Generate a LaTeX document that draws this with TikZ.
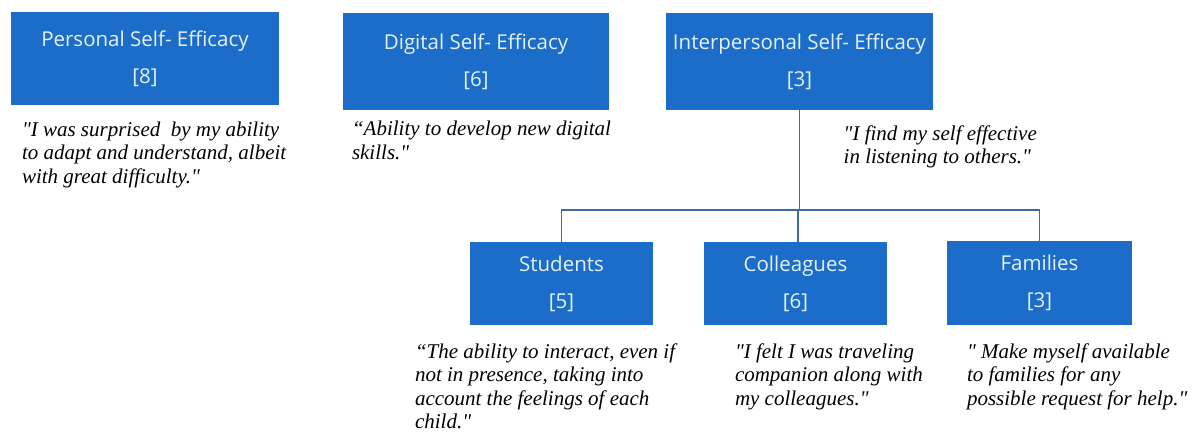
\documentclass[tikz,border=0pt]{standalone}
\usepackage{fontspec}
\setmainfont{Liberation Serif}
\newfontfamily\boxfont{Open Sans}
\usetikzlibrary{positioning}
\definecolor{boxblue}{HTML}{1C6DC9}
\definecolor{boxtext}{HTML}{E4F2FF}
\definecolor{linkblue}{HTML}{3A6C9E}
\newcommand{\dq}{\textquotedbl}
\tikzset{
    box/.style={rectangle, fill=boxblue, text=boxtext, inner sep=0pt, align=center,
        minimum height=93pt, font=\boxfont\fontsize{20.5}{37}\selectfont},
    quote/.style={inner sep=0pt, align=left, font=\itshape\fontsize{21}{23.5}\selectfont},
    link/.style={draw=linkblue, line width=1.3pt}
}

\begin{document}
\begin{tikzpicture}[x=1pt, y=-1pt]
        \useasboundingbox (0,0) rectangle (1196,441);

        \node (personal) [box, minimum width=268pt] at (145,59) {Personal Self- Efficacy\\{[8]}};
        \node (digital) [box, minimum width=266pt, minimum height=97pt] at (476,61.5) {Digital Self- Efficacy\\{[6]}};
        \node (interp) [box, minimum width=267pt, minimum height=97pt] at (799.5,61.5) {Interpersonal Self- Efficacy\\{[3]}};

        \node (students) [box, minimum width=183pt, minimum height=83pt] at (561.5,283.5) {Students\\{[5]}};
        \node (colleagues) [box, minimum width=183pt, minimum height=83pt] at (795.5,283.5) {Colleagues\\{[6]}};
        \node (families) [box, minimum width=185pt, minimum height=84pt] at (1039.5,283) {Families\\{[3]}};

        \node (qpersonal) [quote, below right=16pt and 11pt of personal.south west]
            {\dq I was surprised \ by my ability\\to adapt and understand, albeit\\with great difficulty.\dq};
        \node (qdigital) [quote, below right=11pt and 9pt of digital.south west]
            {“Ability to develop new digital\\skills.\dq};
        \node (qinterp) [quote, below right=15pt and 44pt of interp.south]
            {\dq I find my self effective\\in listening to others.\dq};
        \node (qstudents) [quote, below right=18pt and -55pt of students.south west]
            {“The ability to interact, even if\\not in presence, taking into\\account the feelings of each\\child.\dq};
        \node (qcolleagues) [quote, below right=18pt and 31pt of colleagues.south west]
            {\dq I felt I was traveling\\companion along with\\my colleagues.\dq};
        \node (qfamilies) [quote, below right=18pt and 20pt of families.south west]
            {\dq\ Make myself available\\to families for any\\possible request for help.\dq};

        \coordinate (hub) at (798,210);
        \draw[link] (interp) -- (interp |- hub);
        \draw[link] (students) |- (hub) -| (families);
        \draw[link] (hub) -- (hub |- colleagues.north);
    \end{tikzpicture}
\end{document}
